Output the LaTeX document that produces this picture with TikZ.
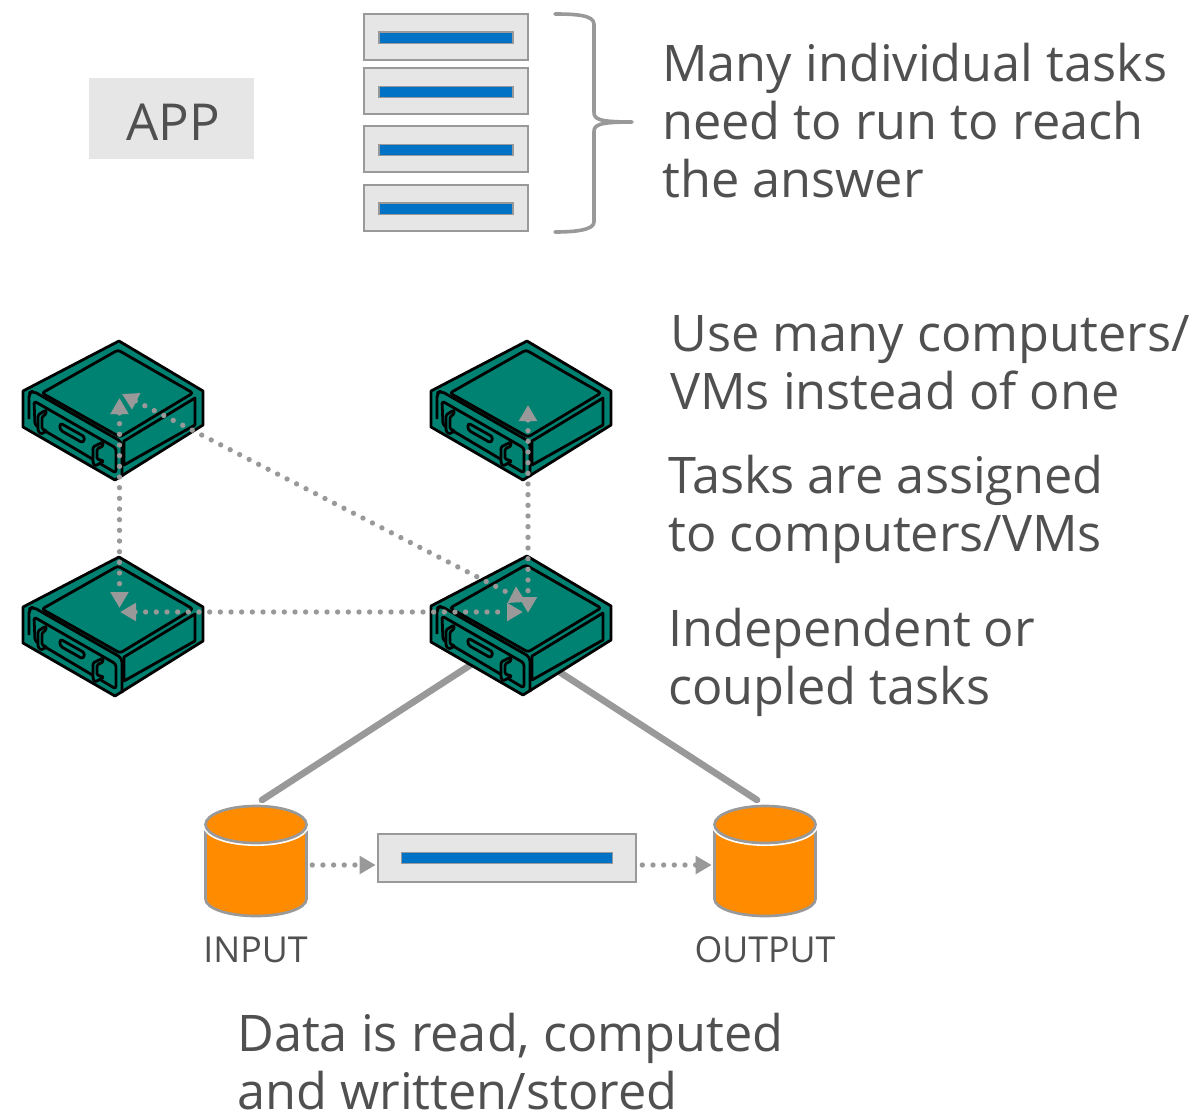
\documentclass[tikz,border=0pt]{standalone}
\usepackage{fontspec}
\setmainfont{Open Sans}
\usetikzlibrary{arrows.meta}
\definecolor{srvteal}{HTML}{008272}
\definecolor{dborange}{HTML}{FF8C00}
\definecolor{barblue}{HTML}{0072C6}
\definecolor{boxgray}{HTML}{E6E6E6}
\definecolor{linegray}{HTML}{999999}
\definecolor{textgray}{HTML}{505050}
\tikzset{
  srvbox/.style={minimum width=136.5pt, minimum height=105pt, inner sep=0pt},
  dbbox/.style={minimum width=76.5pt, minimum height=83pt, inner sep=0pt},
  taskbox/.style={draw=linegray, fill=boxgray, line width=1.5pt, inner sep=0pt, minimum width=123pt, minimum height=34.5pt},
  taskbar/.style={draw=linegray, fill=barblue, line width=1pt, inner sep=0pt, minimum width=100.5pt, minimum height=8.5pt},
  bigtext/.style={anchor=north west, inner sep=0pt, align=left, text=textgray, font=\fontsize{37.85}{43.5}\selectfont},
  dbtext/.style={inner sep=0pt, text=textgray, font=\fontsize{26.8}{30}\selectfont},
  link/.style={draw=linegray, line width=5pt, line cap=round},
  dotarrow/.style={draw=linegray, line width=4pt, line cap=round, dash pattern=on 0pt off 8pt, {Triangle[length=12pt,width=13pt]}-{Triangle[length=12pt,width=13pt]}},
  dotflow/.style={draw=linegray, line width=4pt, line cap=round, dash pattern=on 0pt off 8pt, -{Triangle[length=12pt,width=13pt]}},
  pics/server/.style={code={
    \begin{scope}[shift={(5.5,-70)}, draw=black, line width=2.1pt, line join=round]
      \draw[fill=srvteal] (0,0) -- (84,50) -- (84,84) -- (-4,139) -- (-96,86) -- (-96,50) -- cycle;
      \draw[rounded corners=2pt] (-1,9) -- (74,52) -- (1,96) -- (-77,52) -- cycle;
      \draw[rounded corners=3pt] (-90,78) -- (-90,52) -- (-86,50) -- (3,101) -- (3,136);
      \draw[rounded corners=2pt] (-85,60) -- (-3,107) -- (-3,132) -- (-84,84) -- cycle;
      \draw (5,100) -- (76,57) -- (76,84) -- (5,124) -- cycle;
      \draw[rounded corners=2pt] (-59,82) -- (-34,96) -- (-36,102) -- (-59,89) -- cycle;
      \draw[fill=srvteal, rounded corners=1pt] (-81,74) -- (-73,69) -- (-73,73) -- (-77,76) -- (-77,88) -- (-72,90) -- (-78,93) -- (-81,90) -- cycle;
      \draw[fill=srvteal, rounded corners=1pt] (-26,106) -- (-16,101) -- (-16,105) -- (-22,108) -- (-22,118) -- (-15,120) -- (-24,125) -- (-26,122) -- cycle;
    \end{scope}
  }},
  pics/dbcan/.style={code={
    \draw[draw=linegray, fill=dborange, line width=2pt] (-50.5,-30) -- (-50.5,38) arc[start angle=180, end angle=0, x radius=50.5, y radius=17] -- (50.5,-30) -- cycle;
    \draw[draw=white, line width=4.5pt] (0,-36.5) ellipse[x radius=50.5, y radius=18.5];
    \draw[draw=linegray, fill=dborange, line width=2pt] (0,-36.5) ellipse[x radius=50.5, y radius=18.5];
  }}
}
\begin{document}
\begin{tikzpicture}[x=0.75pt,y=-0.75pt]
  \useasboundingbox (0,0) rectangle (1203,1118);

  \node[fill=boxgray, inner sep=0pt, minimum width=123.75pt, minimum height=60.75pt, text=textgray, font=\fontsize{38.2}{43.5}\selectfont] (appbox) at (171.5,118.5) {\hspace{3pt}\raisebox{-16.5pt}[0pt][0pt]{APP}};

  \foreach \name/\py in {taskA/36.5, taskB/91, taskC/149, taskD/207.5}{
    \node[taskbox] (\name) at (446,\py) {};
    \node[taskbar] (\name bar) at (446,\py+1) {};
  }
  \draw[draw=linegray, line width=2.7pt, line cap=round, line join=round] (555,14) .. controls (575,14) and (594,15) .. (594,24) -- (594,112) .. controls (594,119) and (598,122) .. (632,122) .. controls (598,122) and (594,125) .. (594,132) -- (594,222) .. controls (594,230) and (575,232) .. (555,232);
  \coordinate (braceTip) at (632,122);

  \node[bigtext] (manytext) at (662,43) {Many individual tasks\\need to run to reach\\the answer};
  \node[bigtext] (usetext) at (670,315) {Use many computers/\\VMs instead of one};
  \node[bigtext] (assigntext) at (668,455) {Tasks are assigned\\to computers/VMs};
  \node[bigtext] (coupledtext) at (668,608) {Independent or\\coupled tasks};
  \node[bigtext] (datatext) at (237,1013) {Data is read, computed\\and written/stored};

  \foreach \name/\px/\py in {srvTL/113.5/411, srvTR/521.5/411, srvML/113.5/627, srvC/521.5/626}
    \node[srvbox] (\name) at (\px,\py) {};

  \node[dbbox] (dbIn) at (256,861) {};
  \node[dbbox] (dbOut) at (765,861) {};
  \node[taskbox, minimum width=194pt, minimum height=36pt] (taskMain) at (507,858) {};
  \node[taskbar, minimum width=158pt] (mainbar) at (507,858) {};
  \node[dbtext] (intext) at (255.5,950) {INPUT};
  \node[dbtext] (outtext) at (765,950) {OUTPUT};

  \draw[link] ([shift={(-51,39)}]srvC.center) -- ([shift={(6,-61)}]dbIn.center);
  \draw[link] ([shift={(38,46)}]srvC.center) -- ([shift={(-8,-61)}]dbOut.center);

  \foreach \name in {srvTL, srvTR, srvML, srvC}
    \pic at (\name.center) {server};
  \pic at (dbIn.center) {dbcan};
  \pic at (dbOut.center) {dbcan};

  \draw[dotarrow] ([shift={(6,-13)}]srvTL.center) -- ([shift={(6,-19)}]srvML.center);
  \draw[dotarrow] ([shift={(6.5,-6)}]srvTR.center) -- ([shift={(6.5,-13)}]srvC.center);
  \draw[dotarrow] ([shift={(8.5,-17)}]srvTL.center) -- ([shift={(4.5,-24)}]srvC.center);
  \draw[dotarrow] ([shift={(6.5,-15)}]srvML.center) -- ([shift={(1.5,-14)}]srvC.center);
  \draw[dotflow] ([shift={(5,4)}]dbIn.east) -- ([shift={(-1,7)}]taskMain.west);
  \draw[dotflow] ([shift={(5,7)}]taskMain.east) -- ([shift={(-2,4)}]dbOut.west);
\end{tikzpicture}
\end{document}
